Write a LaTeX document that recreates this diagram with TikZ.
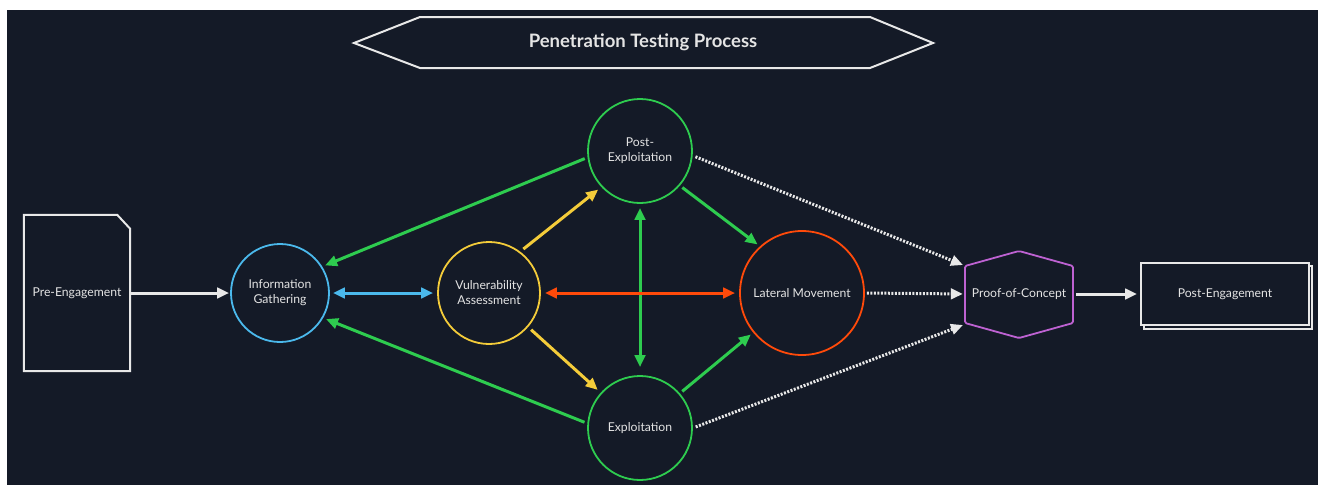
\documentclass[tikz,border=0pt]{standalone}
\usepackage{fontspec}
\setmainfont{Lato}
\usetikzlibrary{arrows.meta}
\definecolor{bg}{HTML}{141A27}
\definecolor{txt}{HTML}{E4E4E4}
\definecolor{wline}{HTML}{E8E8E8}
\definecolor{igblue}{HTML}{4BB9EC}
\definecolor{vayellow}{HTML}{F4CC3A}
\definecolor{pegreen}{HTML}{2ECC4F}
\definecolor{lmorange}{HTML}{FF4A0A}
\definecolor{pocpurple}{HTML}{BE62D2}
\tikzset{
  lbl/.style={text=txt, align=center, font=\fontsize{12.2}{15}\selectfont},
  circ/.style={lbl, circle, line width=1.8pt, inner sep=0pt},
  conn/.style={line width=3pt, -{Triangle[length=12pt,width=10.5pt]}, shorten <=1pt, shorten >=1pt},
  biconn/.style={line width=3pt, {Triangle[length=12pt,width=10.5pt]}-{Triangle[length=12pt,width=10.5pt]}},
  dotconn/.style={conn, draw=wline, dash pattern=on 2pt off 1.5pt}
}
\begin{document}
\begin{tikzpicture}[x=1pt,y=-1pt]
\useasboundingbox (0,0) rectangle (1324,485);
\fill[white] (0,0) rectangle (1324,485);
\fill[bg] (7,10) rectangle (1318,485);

% title
\draw[wline, line width=2pt, fill=bg] (354,43) -- (420,17) -- (870,17) -- (933,43) -- (870,68) -- (420,68) -- cycle;
\node[text=txt, font=\bfseries\fontsize{18.5}{22}\selectfont] (title) at (643,42) {Penetration Testing Process};

% nodes
\node[lbl, minimum width=106pt, minimum height=156pt] (pre) at (77,293) {Pre-Engagement};
\draw[wline, line width=2pt] (pre.south west) -- (pre.north west) -- ([xshift=-13pt]pre.north east) -- ([yshift=-14pt]pre.north east) -- (pre.south east) -- cycle;

\node[circ, draw=igblue, minimum size=98pt] (ig) at (280,293) {Information\\Gathering};
\node[circ, draw=vayellow, minimum size=102pt] (va) at (489,293) {Vulnerability\\Assessment};
\node[circ, draw=pegreen, minimum size=104pt] (pe) at (640,151) {Post-\\Exploitation};
\node[circ, draw=pegreen, minimum size=104pt] (ex) at (640,428) {Exploitation};
\node[circ, draw=lmorange, minimum size=124pt] (lm) at (802,293) {Lateral Movement};

\node[lbl, minimum width=108pt, minimum height=87pt] (poc) at (1019,294) {Proof-of-Concept};
\draw[pocpurple, line width=1.8pt, rounded corners=1.5pt] (965,266) -- (1019,251) -- (1073,266) -- (1073,323) -- (1019,338) -- (965,323) -- cycle;
\coordinate (pocnw) at (963,265);
\coordinate (pocsw) at (963,325);

\draw[wline, line width=2pt, fill=bg] (1144,266) rectangle (1312,329);
\node[lbl, draw=wline, line width=2pt, fill=bg, minimum width=168pt, minimum height=62pt] (post) at (1225,294) {Post-Engagement};

% connectors
\draw[conn, draw=wline] (pre.east) -- (ig.west);
\draw[biconn, draw=igblue, shorten <=3pt, shorten >=4pt] (ig.east) -- (va.west);
\draw[conn, draw=pegreen, shorten <=3pt, shorten >=3pt] (pe.187) -- (ig.32);
\draw[conn, draw=pegreen, shorten <=3pt, shorten >=3pt] (ex.175) -- (ig.330);
\draw[conn, draw=vayellow, shorten <=4pt, shorten >=4pt] (va.53) -- (pe.223);
\draw[conn, draw=vayellow, shorten <=4pt, shorten >=4pt] (va.319) -- (ex.138);
\draw[biconn, draw=pegreen, shorten <=4pt, shorten >=8pt] (pe.south) -- (ex.north);
\draw[biconn, draw=lmorange, shorten <=4pt, shorten >=4pt] (va.east) -- (lm.west);
\draw[conn, draw=pegreen, shorten <=3pt, shorten >=3pt] (pe.319) -- (lm.132);
\draw[conn, draw=pegreen, shorten <=3pt, shorten >=3pt] (ex.41) -- (lm.219);
\draw[dotconn, shorten <=3pt, shorten >=0pt] (pe.355) -- (pocnw);
\draw[dotconn, shorten <=2pt, shorten >=2pt] (lm.east) -- (poc.west);
\draw[dotconn, shorten <=3pt, shorten >=0pt] (ex.east) -- (pocsw);
\draw[conn, draw=wline, shorten <=3pt, shorten >=3pt] (poc.east) -- (post.west);
\end{tikzpicture}
\end{document}
